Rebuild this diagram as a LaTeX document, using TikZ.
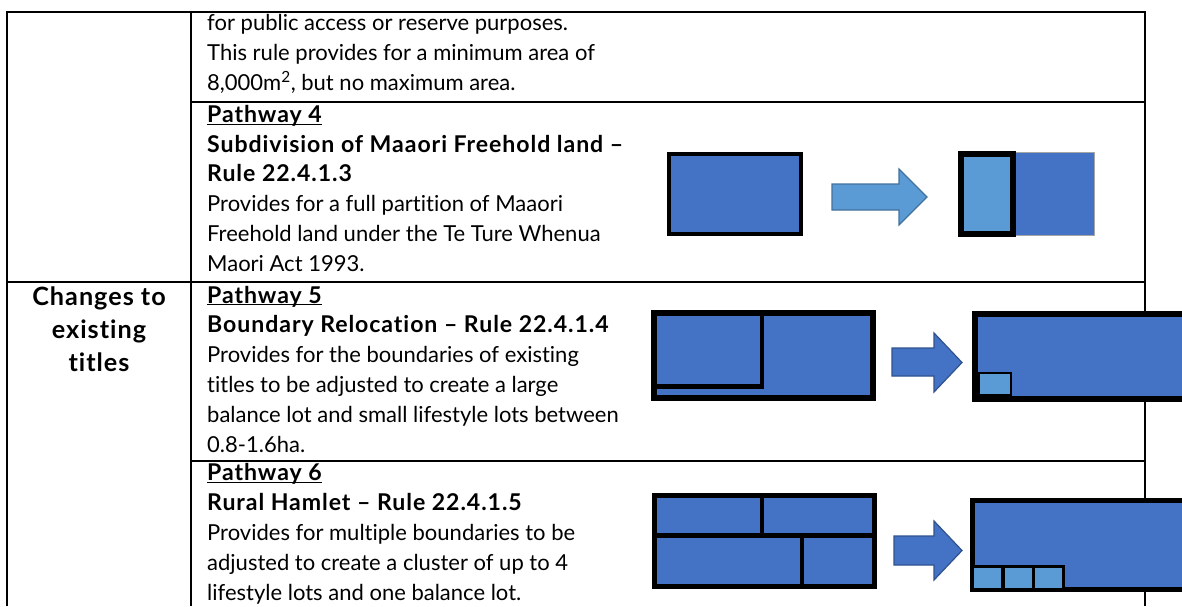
\documentclass[tikz,border=0pt]{standalone}
\usepackage{fontspec}
\setmainfont{Lato}[Ligatures=NoCommon,BoldFeatures={Scale=1.05,LetterSpace=4}]
\usepackage{tikz}

\definecolor{lotblue}{HTML}{4472C4}
\definecolor{lotlight}{HTML}{5B9BD5}
\definecolor{edgedark}{HTML}{2F528F}
\definecolor{edgelight}{HTML}{41719C}

\tikzset{
  body/.style={anchor=base west,inner sep=0pt,font=\fontsize{22}{29.8}\selectfont},
  head/.style={anchor=base,inner sep=0pt,font=\fontsize{24}{33}\selectfont\bfseries},
  rule/.style={line width=2.6pt},
  lot/.style={fill=lotblue,draw=black,line width=#1},
  lotsmall/.style={fill=lotlight,draw=black,line width=#1},
  blockarrow/.style={fill=lotblue,draw=edgedark,line width=1.2pt,line join=miter}
}

\begin{document}
\begin{tikzpicture}[x=1pt,y=-1pt,line join=miter]
  \useasboundingbox (0,0) rectangle (1182,606);
  % table lines
  \draw[rule] (7,606) -- (7,12) -- (1145,12) -- (1145,606);
  \draw[rule] (191,12) -- (191,606);
  \draw[rule] (191,102) -- (1145,102);
  \draw[rule] (7,282) -- (1145,282);
  \draw[rule] (191,461) -- (1145,461);
  %
  % left column
  \node[head] (chg-1) at (99,305) {Changes to};
  \node[head] (chg-2) at (99,338) {existing};
  \node[head] (chg-3) at (99,371) {titles};
  %
  % row carried over
  \foreach \txt [count=\i from 0] in {for public access or reserve purposes.,
      This rule provides for a minimum area of,
      {8,000m\textsuperscript{2}, but no maximum area.}}
    \node[body] (top-\i) at (207,{30.5+30*\i}) {\txt};
  %
  % pathway 4
  \foreach \txt [count=\i from 0] in {\textbf{\underline{\smash{Pathway 4}}},
      \textbf{Subdivision of Maaori Freehold land --},
      \textbf{Rule 22.4.1.3},
      Provides for a full partition of Maaori,
      Freehold land under the Te Ture Whenua,
      Maori Act 1993.}
    \node[body] (pfour-\i) at (207,{122.5+29.7*\i}) {\txt};
  %
  % pathway 5
  \foreach \txt [count=\i from 0] in {\textbf{\underline{\smash{Pathway 5}}},
      \textbf{Boundary Relocation -- Rule 22.4.1.4},
      Provides for the boundaries of existing,
      titles to be adjusted to create a large,
      balance lot and small lifestyle lots between,
      0.8-1.6ha.}
    \node[body] (pfive-\i) at (207,{303+29.8*\i}) {\txt};
  %
  % pathway 6
  \foreach \txt [count=\i from 0] in {\textbf{\underline{\smash{Pathway 6}}},
      \textbf{Rural Hamlet -- Rule 22.4.1.5},
      Provides for multiple boundaries to be,
      adjusted to create a cluster of up to 4,
      lifestyle lots and one balance lot.}
    \node[body] (psix-\i) at (207,{480.5+30*\i}) {\txt};
  %
  % pathway 4 sketch
  \draw[lot=4.3pt] (669,154) rectangle (801,234);
  \draw[blockarrow,fill=lotlight,draw=edgelight] (832,184) -- (899,184) -- (899,169) -- (927,197)
    -- (899,225) -- (899,210) -- (832,210) -- cycle;
  \draw[fill=lotblue,draw=gray!70,line width=0.8pt] (1015,152.5) rectangle (1094,235.5);
  \draw[lotsmall=5.5pt] (960.8,153.8) rectangle (1013,234.2);
  %
  % pathway 5 sketch
  \draw[lot=6pt] (654,313) rectangle (873,398);
  \draw[line width=4.5pt] (654,386.5) -- (762,386.5) -- (762,313);
  \draw[blockarrow] (892,348) -- (934,348) -- (934,333) -- (962,362.5)
    -- (934,392) -- (934,376) -- (892,376) -- cycle;
  \draw[lot=5.5pt] (974.8,313.8) rectangle (1195,399.2);
  \draw[lotsmall=2.6pt] (978.5,373) rectangle (1010.8,395);
  %
  % pathway 6 sketch
  \draw[lot=5pt] (654.5,495.5) rectangle (874.5,586.5);
  \draw[line width=5.5pt] (654.5,535.5) -- (874.5,535.5);
  \draw[line width=4.5pt] (762,495.5) -- (762,535.5);
  \draw[line width=4.5pt] (802,535.5) -- (802,586.5);
  \draw[blockarrow] (894,536) -- (934,536) -- (934,521) -- (962,550.5)
    -- (934,580) -- (934,565) -- (894,565) -- cycle;
  \draw[lot=5pt] (972.5,500.5) rectangle (1195,589.5);
  \foreach \x in {972.5,1003.5,1033.5}
    \draw[lotsmall=3pt] (\x,566.5) rectangle ({\x+29.5},589.5);
\end{tikzpicture}
\end{document}
